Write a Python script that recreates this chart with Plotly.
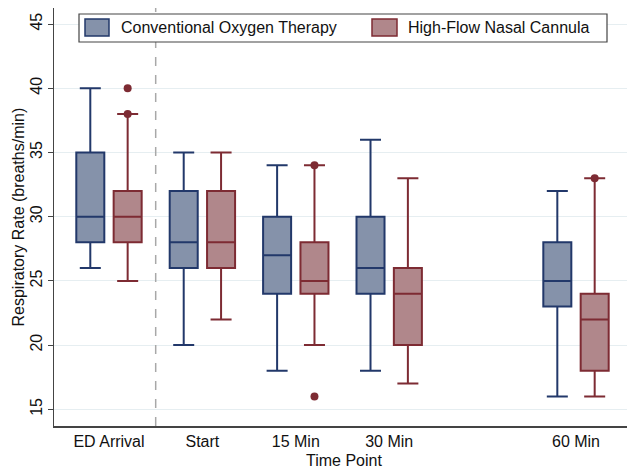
import plotly.graph_objects as go

# ---- data ----
time_labels = ["ED Arrival", "Start", "15 Min", "30 Min", "60 Min"]
time_minutes = [-15, 0, 15, 30, 60]

cot_low = [26, 20, 18, 18, 16]
cot_q1 = [28, 26, 24, 24, 23]
cot_med = [30, 28, 27, 26, 25]
cot_q3 = [35, 32, 30, 30, 28]
cot_high = [40, 35, 34, 36, 32]

hf_low = [25, 22, 20, 17, 16]
hf_q1 = [28, 26, 24, 20, 18]
hf_med = [30, 28, 25, 24, 22]
hf_q3 = [32, 32, 28, 26, 24]
hf_high = [38, 35, 34, 33, 33]

hf_out_time = ["ED Arrival", "ED Arrival", "15 Min", "15 Min", "60 Min"]
hf_out_val = [40, 38, 34, 16, 33]

series_names = ["Conventional Oxygen Therapy", "High-Flow Nasal Cannula"]
y_ticks = [15, 20, 25, 30, 35, 40, 45]

# ---- styles ----
COT_LINE, COT_FILL = "#22386a", "#8592aa"
HF_LINE, HF_FILL = "#7d2b33", "#b0878b"
OFFSET = 3.0
BOXW = 4.5
FONT = "Liberation Sans, Arial, sans-serif"

pos = dict(zip(time_labels, time_minutes))

fig = go.Figure()
fig.add_trace(go.Box(
    x=[t - OFFSET for t in time_minutes], q1=cot_q1, median=cot_med, q3=cot_q3,
    lowerfence=cot_low, upperfence=cot_high, width=BOXW, whiskerwidth=0.75,
    line=dict(color=COT_LINE, width=2), fillcolor=COT_FILL,
    name=series_names[0], showlegend=False, hoverinfo="skip"))
fig.add_trace(go.Box(
    x=[t + OFFSET for t in time_minutes], q1=hf_q1, median=hf_med, q3=hf_q3,
    lowerfence=hf_low, upperfence=hf_high, width=BOXW, whiskerwidth=0.75,
    line=dict(color=HF_LINE, width=2), fillcolor=HF_FILL,
    name=series_names[1], showlegend=False, hoverinfo="skip"))
fig.add_trace(go.Scatter(
    x=[pos[t] + OFFSET for t in hf_out_time], y=hf_out_val, mode="markers",
    marker=dict(color=HF_LINE, size=8), showlegend=False, hoverinfo="skip"))

W, H = 627, 469
ML, MR, MT, MB = 54, 0, 8, 43
pw, ph = W - ML - MR, H - MT - MB


def px(x):
    return (x - ML) / pw


def py(y):
    return (H - MB - y) / ph


shapes = [
    dict(type="line", xref="x", yref="paper", x0=-7.5, x1=-7.5, y0=0, y1=1,
         line=dict(color="#a8a8a8", width=1.5, dash="dash"), layer="above"),
    dict(type="rect", xref="paper", yref="paper", x0=px(79), x1=px(607), y0=py(42), y1=py(14),
         line=dict(color="#444444", width=1.2), fillcolor="white", layer="above"),
    dict(type="rect", xref="paper", yref="paper", x0=px(85), x1=px(109), y0=py(36), y1=py(19),
         line=dict(color=COT_LINE, width=1.5), fillcolor=COT_FILL, layer="above"),
    dict(type="rect", xref="paper", yref="paper", x0=px(372), x1=px(397), y0=py(36), y1=py(19),
         line=dict(color=HF_LINE, width=1.5), fillcolor=HF_FILL, layer="above"),
]
annotations = [
    dict(xref="paper", yref="paper", x=px(119), y=py(27.5), xanchor="left", yanchor="middle",
         text=series_names[0], showarrow=False, font=dict(size=16, color="#111111", family=FONT)),
    dict(xref="paper", yref="paper", x=px(406), y=py(27.5), xanchor="left", yanchor="middle",
         text=series_names[1], showarrow=False, font=dict(size=16, color="#111111", family=FONT)),
    dict(xref="paper", yref="paper", x=px(344), y=py(460), xanchor="center", yanchor="middle",
         text="Time Point", showarrow=False, font=dict(size=16, color="#111111", family=FONT)),
    dict(xref="paper", yref="paper", x=px(17.5), y=py(217), xanchor="center", yanchor="middle",
         text="Respiratory Rate (breaths/min)", textangle=-90, showarrow=False,
         font=dict(size=16, color="#111111", family=FONT)),
]

fig.update_layout(
    width=W, height=H, autosize=False,
    margin=dict(l=ML, r=MR, t=MT, b=MB),
    paper_bgcolor="white", plot_bgcolor="white",
    boxmode="overlay", showlegend=False,
    font=dict(family=FONT, size=16, color="#111111"),
    shapes=shapes, annotations=annotations,
)
fig.update_xaxes(
    range=[-23.83, 68.19], tickvals=time_minutes, ticktext=time_labels,
    showgrid=False, zeroline=False, showline=True, linecolor="#444444", linewidth=1.5,
    ticks="", tickfont=dict(size=16, color="#111111"), automargin=False,
)
fig.update_yaxes(
    range=[13.70, 46.25], tickvals=y_ticks, tickangle=-90,
    showgrid=True, gridcolor="#e6eef1", gridwidth=1, zeroline=False,
    showline=True, linecolor="#444444", linewidth=1.2,
    ticks="outside", ticklen=5, tickcolor="#444444", automargin=False,
    tickfont=dict(size=16, color="#111111"),
)

fig.write_html("out.html", config={"displayModeBar": False},
               post_script="document.body.style.margin='0';document.body.style.padding='0';")
